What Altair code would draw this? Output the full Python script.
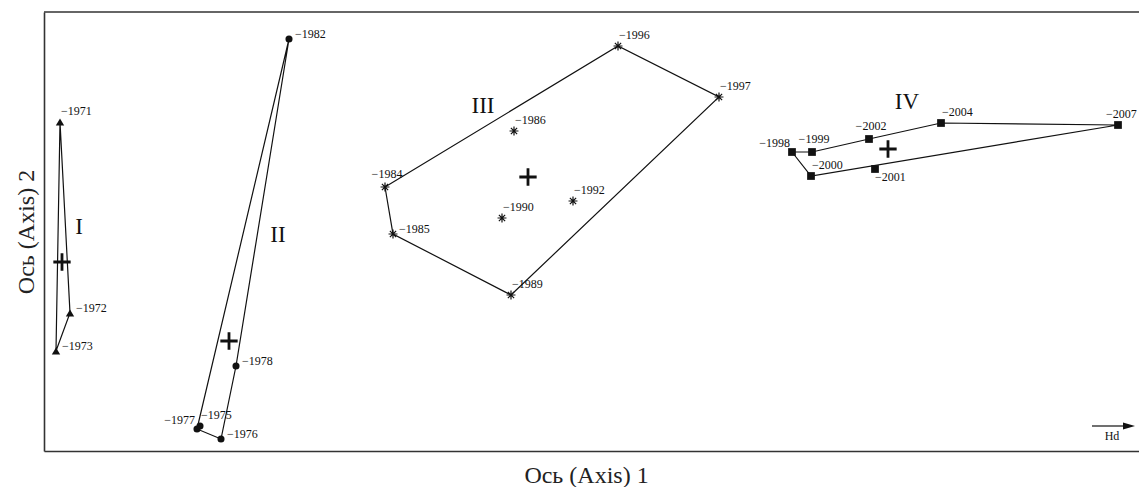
import altair as alt
import pandas as pd

# ---- data (ordination scores, arbitrary units) ----
group_I_years = ["1971", "1972", "1973"]
group_I_x = [0.16, 0.26, 0.12]
group_I_y = [3.29, 1.38, 1.00]
group_I_hull = ["1971", "1972", "1973", "1971"]

group_II_years = ["1982", "1978", "1977", "1975", "1976"]
group_II_x = [2.45, 1.92, 1.53, 1.56, 1.77]
group_II_y = [4.12, 0.85, 0.22, 0.25, 0.12]
group_II_hull = ["1982", "1978", "1976", "1977", "1982"]

group_III_years = ["1996", "1997", "1986", "1984", "1992", "1990", "1985", "1989"]
group_III_x = [5.74, 6.75, 4.70, 3.41, 5.29, 4.58, 3.49, 4.67]
group_III_y = [4.05, 3.54, 3.20, 2.64, 2.50, 2.33, 2.17, 1.56]
group_III_hull = ["1984", "1996", "1997", "1989", "1985", "1984"]

group_IV_years = ["1998", "1999", "2002", "2004", "2007", "2000", "2001"]
group_IV_x = [7.48, 7.68, 8.25, 8.97, 10.74, 7.67, 8.31]
group_IV_y = [2.99, 2.99, 3.12, 3.28, 3.26, 2.75, 2.82]
group_IV_hull = ["1998", "1999", "2002", "2004", "2007", "2000", "1998"]

group_names = ["I", "II", "III", "IV"]
centroid_x = [0.18, 1.85, 4.84, 8.44]
centroid_y = [1.89, 1.10, 2.74, 3.02]
group_label_x = [0.35, 2.34, 4.39, 8.63]
group_label_y = [2.24, 2.16, 3.45, 3.49]

hd_arrow_x = [10.48, 10.80]
hd_arrow_head_x = [10.85]
hd_arrow_y = [0.25]
hd_text_x = [10.68]
hd_text_y = [0.15]

x_domain = [0.0, 10.95]
y_domain = [0.0, 4.39]

# ---- label placement style (not data) ----
PLACEMENT = {
    "1972": "right", "1973": "right", "1982": "right", "1978": "right",
    "1976": "right", "1985": "right",
    "1977": "left", "1998": "left",
    "1984": "center", "1999": "center", "2002": "center",
    "2001": "below",
    "2007": "edge",
}
PLACE_STYLE = {
    "above": dict(align="left", dx=1, dy=-11),
    "right": dict(align="left", dx=6, dy=-5),
    "left": dict(align="right", dx=-2, dy=-9),
    "center": dict(align="center", dx=2, dy=-13),
    "below": dict(align="left", dx=0, dy=8),
    "edge": dict(align="left", dx=-12, dy=-11),
}

rows = []
hull_rows = []
groups = [
    ("I", group_I_years, group_I_x, group_I_y, group_I_hull),
    ("II", group_II_years, group_II_x, group_II_y, group_II_hull),
    ("III", group_III_years, group_III_x, group_III_y, group_III_hull),
    ("IV", group_IV_years, group_IV_x, group_IV_y, group_IV_hull),
]
for g, yrs, xs, ys, hull in groups:
    lookup = {}
    for yr, xv, yv in zip(yrs, xs, ys):
        rows.append(dict(group=g, year=yr, label="\u2212" + yr, x=xv, y=yv,
                         place=PLACEMENT.get(yr, "above")))
        lookup[yr] = (xv, yv)
    for i, yr in enumerate(hull):
        hull_rows.append(dict(group=g, step=i, x=lookup[yr][0], y=lookup[yr][1]))

pts = pd.DataFrame(rows)
hull_df = pd.DataFrame(hull_rows)
cent_df = pd.DataFrame(dict(group=group_names, x=centroid_x, y=centroid_y))
glab_df = pd.DataFrame(dict(group=group_names, x=group_label_x, y=group_label_y))
frame_df = pd.DataFrame(dict(x=[x_domain[0]], x2=[x_domain[1]], y=[y_domain[1]]))
arrow_df = pd.DataFrame(dict(x=[hd_arrow_x[0]], x2=[hd_arrow_x[1]], y=hd_arrow_y))
head_df = pd.DataFrame(dict(x=hd_arrow_head_x, y=hd_arrow_y))
hd_df = pd.DataFrame(dict(x=hd_text_x, y=hd_text_y, t=["Hd"]))

SERIF = "Liberation Serif"
xscale = alt.Scale(domain=x_domain, nice=False, zero=False)
yscale = alt.Scale(domain=y_domain, nice=False, zero=False)
xaxis = alt.Axis(title="Ось (Axis) 1", labels=False, ticks=False, grid=False,
                 domain=True, domainColor="#333", domainWidth=1.6,
                 titleFont=SERIF, titleFontSize=24, titleFontWeight="normal",
                 titleColor="#222", titlePadding=12, titleX=542)
yaxis = alt.Axis(title="Ось (Axis) 2", labels=False, ticks=False, grid=False,
                 domain=True, domainColor="#333", domainWidth=1.6,
                 titleFont=SERIF, titleFontSize=24, titleFontWeight="normal",
                 titleColor="#222", titlePadding=6)


def X(f="x"):
    return alt.X(f"{f}:Q", scale=xscale, axis=xaxis)


def Y(f="y"):
    return alt.Y(f"{f}:Q", scale=yscale, axis=yaxis)


hull = alt.Chart(hull_df).mark_line(color="#111", strokeWidth=1.2).encode(
    x=X(), y=Y(), detail="group:N", order="step:Q")

frame_top = alt.Chart(frame_df).mark_rule(color="#333", strokeWidth=1.6).encode(
    x=X(), x2="x2:Q", y=Y())

tri = alt.Chart(pts[pts.group == "I"]).mark_point(
    shape="triangle-up", filled=True, color="#111", size=70, opacity=1).encode(x=X(), y=Y())
circ = alt.Chart(pts[pts.group == "II"]).mark_point(
    shape="circle", filled=True, color="#111", size=50, opacity=1).encode(x=X(), y=Y())
ast = alt.Chart(pts[pts.group == "III"]).mark_point(
    shape="M-1,0H1M0,-1V1M-0.7,-0.7L0.7,0.7M-0.7,0.7L0.7,-0.7",
    filled=False, color="#111", size=80, strokeWidth=1.2, opacity=1).encode(x=X(), y=Y())
sq = alt.Chart(pts[pts.group == "IV"]).mark_point(
    shape="square", filled=True, color="#111", size=60, opacity=1).encode(x=X(), y=Y())

cross = alt.Chart(cent_df).mark_point(
    shape="M-1,0H1M0,-1V1", filled=False, color="#111", size=300,
    strokeWidth=2.8, opacity=1).encode(x=X(), y=Y())

label_layers = []
for pl, st in PLACE_STYLE.items():
    sub = pts[pts.place == pl]
    if len(sub) == 0:
        continue
    label_layers.append(
        alt.Chart(sub).mark_text(font=SERIF, fontSize=12, color="#111",
                                 baseline="middle", **st).encode(
            x=X(), y=Y(), text="label:N"))

glab = alt.Chart(glab_df).mark_text(font=SERIF, fontSize=23, color="#111",
                                    baseline="middle", align="center").encode(
    x=X(), y=Y(), text="group:N")

arrow = alt.Chart(arrow_df).mark_rule(color="#111", strokeWidth=1.2).encode(
    x=X(), x2="x2:Q", y=Y())
head = alt.Chart(head_df).mark_point(
    shape="M-1,-0.6L1,0L-1,0.6Z", filled=True, color="#111", size=144,
    opacity=1).encode(x=X(), y=Y())
hd = alt.Chart(hd_df).mark_text(font=SERIF, fontSize=12, color="#111",
                                baseline="middle", align="center").encode(
    x=X(), y=Y(), text="t:N")

chart = alt.layer(hull, frame_top, tri, circ, ast, sq, cross, *label_layers,
                  glab, arrow, head, hd).properties(
    width=1095, height=439,
    padding={"left": 36, "top": 4, "right": 0, "bottom": 36},
    autosize=alt.AutoSizeParams(type="none"),
    background="white",
).configure_view(stroke=None)

chart.save("out.html", embed_options={"renderer": "svg", "actions": False})
